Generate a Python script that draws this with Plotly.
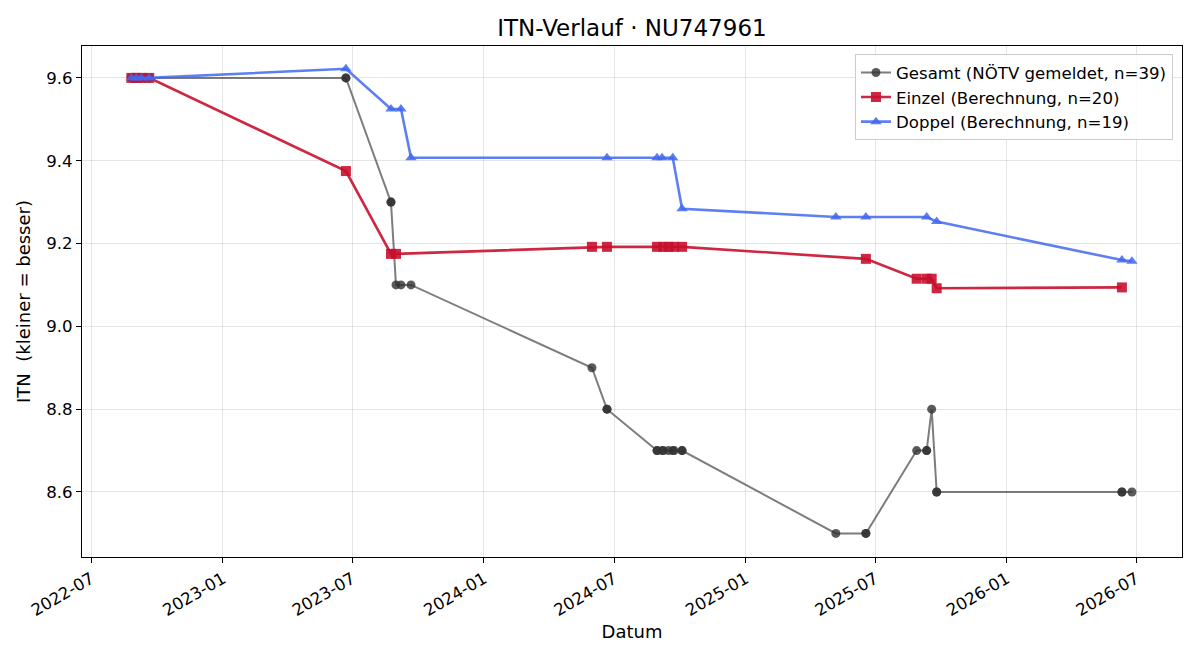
import plotly.graph_objects as go

# ---- data ----
einzel_dates = ["2022-08-26", "2022-09-02", "2022-09-09", "2022-09-20",
                "2023-06-22", "2023-08-24", "2023-08-31",
                "2024-05-31", "2024-06-21",
                "2024-08-30", "2024-09-08", "2024-09-15", "2024-09-23", "2024-10-04",
                "2025-06-18", "2025-08-28", "2025-09-11", "2025-09-18", "2025-09-25",
                "2026-06-11"]
einzel_vals = [9.6, 9.6, 9.6, 9.6,
               9.375, 9.175, 9.175,
               9.192, 9.192,
               9.192, 9.192, 9.192, 9.192, 9.192,
               9.163, 9.115, 9.115, 9.115, 9.092,
               9.094]

doppel_dates = ["2022-08-26", "2022-09-02", "2022-09-09", "2022-09-20",
                "2023-06-22", "2023-08-24", "2023-09-07", "2023-09-21",
                "2024-06-21",
                "2024-08-30", "2024-09-06", "2024-09-21", "2024-10-04",
                "2025-05-07", "2025-06-18", "2025-09-11", "2025-09-25",
                "2026-06-11", "2026-06-25"]
doppel_vals = [9.6, 9.6, 9.6, 9.6,
               9.622, 9.525, 9.525, 9.407,
               9.407,
               9.407, 9.407, 9.407, 9.284,
               9.264, 9.264, 9.264, 9.253,
               9.160, 9.157]

gesamt_dates = ["2022-08-26", "2022-08-26", "2022-09-02", "2022-09-02",
                "2022-09-09", "2022-09-09", "2022-09-20", "2022-09-20",
                "2023-06-22", "2023-06-22", "2023-08-24", "2023-08-24",
                "2023-08-31", "2023-09-07", "2023-09-21",
                "2024-05-31", "2024-06-21", "2024-06-21",
                "2024-08-30", "2024-08-30", "2024-09-06", "2024-09-08",
                "2024-09-15", "2024-09-21", "2024-09-23", "2024-10-04", "2024-10-04",
                "2025-05-07", "2025-06-18", "2025-06-18",
                "2025-08-28", "2025-09-11", "2025-09-11", "2025-09-18",
                "2025-09-25", "2025-09-25",
                "2026-06-11", "2026-06-11", "2026-06-25"]
gesamt_vals = [9.6, 9.6, 9.6, 9.6,
               9.6, 9.6, 9.6, 9.6,
               9.6, 9.6, 9.3, 9.3,
               9.1, 9.1, 9.1,
               8.9, 8.8, 8.8,
               8.7, 8.7, 8.7, 8.7,
               8.7, 8.7, 8.7, 8.7, 8.7,
               8.5, 8.5, 8.5,
               8.7, 8.7, 8.7, 8.8,
               8.6, 8.6,
               8.6, 8.6, 8.6]

tick_vals = ["2022-07-01", "2023-01-01", "2023-07-01", "2024-01-01", "2024-07-01",
             "2025-01-01", "2025-07-01", "2026-01-01", "2026-07-01"]
tick_text = ["2022-07", "2023-01", "2023-07", "2024-01", "2024-07",
             "2025-01", "2025-07", "2026-01", "2026-07"]

FONT = "DejaVu Sans"

fig = go.Figure()
fig.add_trace(go.Scatter(
    x=gesamt_dates, y=gesamt_vals, mode="lines+markers",
    name=f"Gesamt (NÖTV gemeldet, n={len(gesamt_vals)})", legendgroup="g",
    line=dict(color="rgba(70,70,70,0.7)", width=2),
    marker=dict(symbol="circle", size=9, color="rgba(50,50,50,0.8)"),
))
fig.add_trace(go.Scatter(
    x=einzel_dates, y=einzel_vals, mode="lines+markers",
    name=f"Einzel (Berechnung, n={len(einzel_vals)})", legendgroup="e",
    line=dict(color="rgba(200,16,46,0.9)", width=2.6),
    marker=dict(symbol="square", size=10, color="rgba(200,16,46,0.9)"),
))
fig.add_trace(go.Scatter(
    x=doppel_dates, y=doppel_vals, mode="lines+markers",
    name=f"Doppel (Berechnung, n={len(doppel_vals)})", legendgroup="d",
    line=dict(color="rgba(65,105,240,0.85)", width=2.6),
    marker=dict(symbol="triangle-up", size=10, color="rgba(65,105,240,0.85)"),
))

axis_common = dict(
    showline=True, linecolor="black", linewidth=1, mirror=True,
    ticks="outside", ticklen=5, tickcolor="black",
    showgrid=True, gridcolor="rgba(0,0,0,0.1)", gridwidth=1,
    zeroline=False,
    tickfont=dict(family=FONT, size=16.6, color="black"),
)

fig.update_layout(
    width=1200, height=660,
    margin=dict(l=82, r=18, t=46, b=103),
    paper_bgcolor="white", plot_bgcolor="white",
    font=dict(family=FONT, size=16.6, color="black"),
    title=dict(text="ITN-Verlauf · NU747961", x=0.5266, xanchor="center",
               y=0.957, yanchor="middle",
               font=dict(family=FONT, size=23, color="black")),
    legend=dict(x=0.9918, y=0.984, xanchor="right", yanchor="top",
                bgcolor="rgba(255,255,255,0.85)", bordercolor="#cccccc", borderwidth=1,
                font=dict(family=FONT, size=16.6, color="black"),
                tracegroupgap=0),
    xaxis=dict(
        **axis_common,
        type="date",
        range=["2022-06-18", "2026-09-03"],
        tickmode="array", tickvals=tick_vals, ticktext=tick_text,
        tickangle=-30,
        title=dict(text="Datum", font=dict(family=FONT, size=18), standoff=6),
    ),
    yaxis=dict(
        **axis_common,
        range=[8.443, 9.677],
        tickmode="array", tickvals=[8.6, 8.8, 9.0, 9.2, 9.4, 9.6],
        ticktext=["8.6", "8.8", "9.0", "9.2", "9.4", "9.6"],
        title=dict(text="ITN\u00a0\u00a0(kleiner = besser)", font=dict(family=FONT, size=18), standoff=10),
    ),
)

fig.write_html("out.html")
